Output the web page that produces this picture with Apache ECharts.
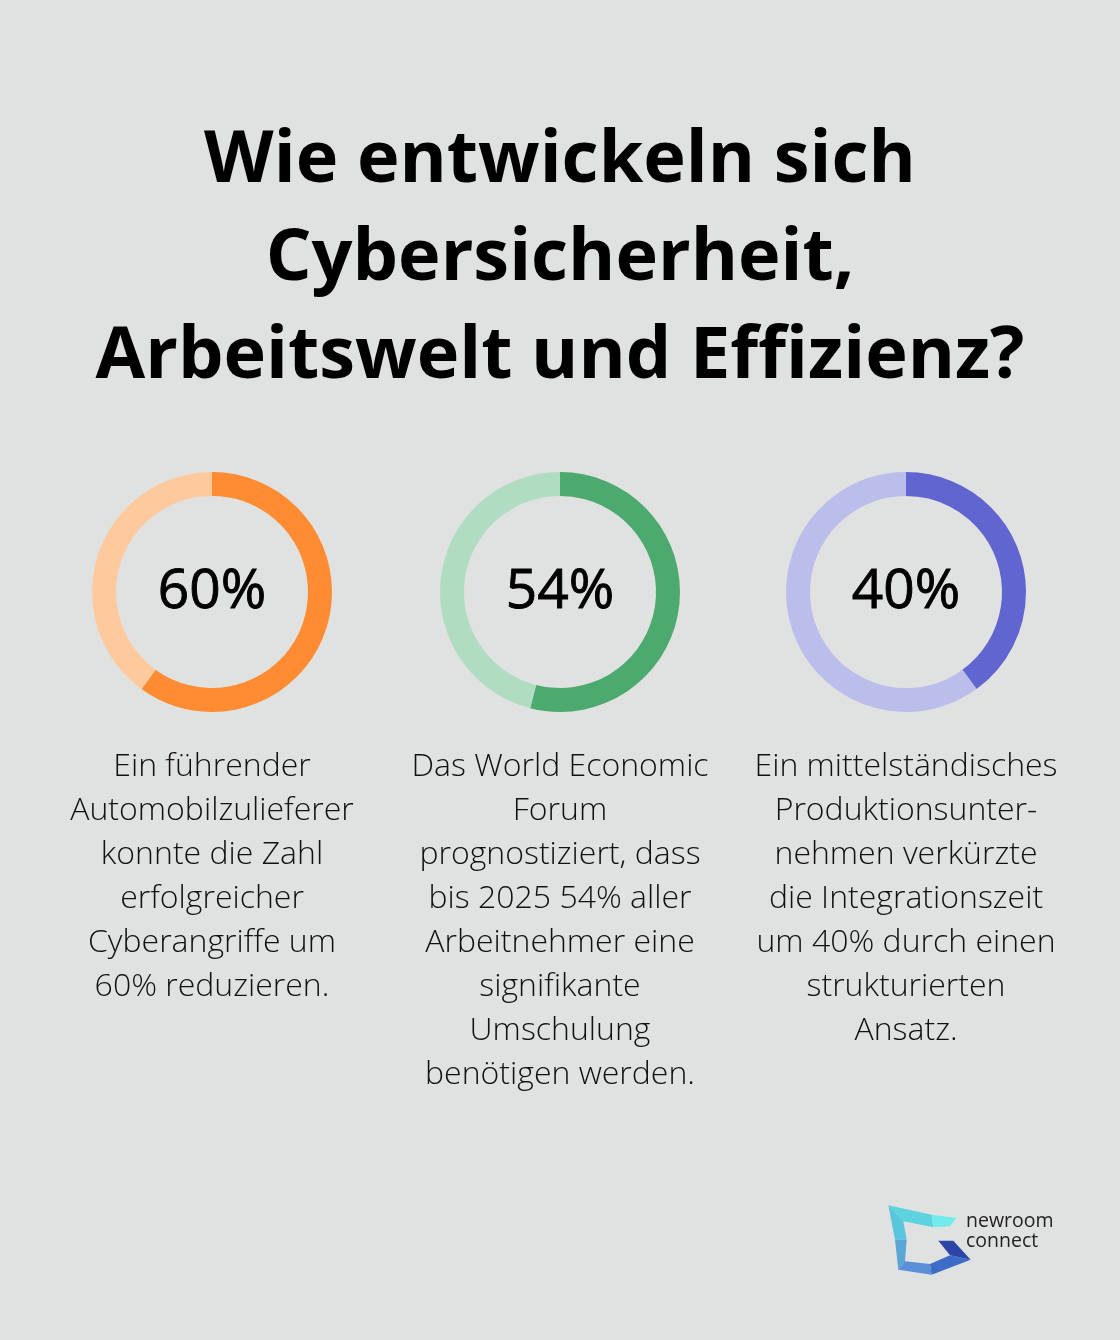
<!DOCTYPE html>
<html><head><meta charset="utf-8">
<script src="https://cdn.jsdelivr.net/npm/echarts@6/dist/echarts.min.js"></script>
<style>html,body{margin:0;padding:0;background:#e0e2e1;}#c{width:1120px;height:1340px;}</style>
</head><body><div id="c"></div>
<script>
const titleLines = ['Wie entwickeln sich', 'Cybersicherheit,', 'Arbeitswelt und Effizienz?'];
const percentValues = [60, 54, 40];
const percentLabels = ['60%', '54%', '40%'];
const descriptions = [
  ['Ein führender', 'Automobilzulieferer', 'konnte die Zahl', 'erfolgreicher', 'Cyberangriffe um', '60% reduzieren.'],
  ['Das World Economic', 'Forum', 'prognostiziert, dass', 'bis 2025 54% aller', 'Arbeitnehmer eine', 'signifikante', 'Umschulung', 'benötigen werden.'],
  ['Ein mittelständisches', 'Produktionsunter-', 'nehmen verkürzte', 'die Integrationszeit', 'um 40% durch einen', 'strukturierten', 'Ansatz.']
];
const darkColors = ['#ff8c33', '#4daa6e', '#6165d0'];
const lightColors = ['#ffc99e', '#b0ddc1', '#bbbdeb'];
const centersX = [212, 560, 906];
const centerY = 592;

const chart = echarts.init(document.getElementById('c'), null, {renderer: 'canvas'});
const FONT = '"Open Sans", "Noto Sans", sans-serif';

const series = percentValues.map((v, i) => ({
  type: 'pie',
  center: [centersX[i], centerY],
  radius: [96, 120],
  startAngle: 90,
  clockwise: true,
  silent: true,
  animation: false,
  labelLine: {show: false},
  data: [
    {value: v, itemStyle: {color: darkColors[i]},
     label: {show: true, position: 'center', formatter: percentLabels[i], fontFamily: FONT, fontSize: 55, fontWeight: 400, color: '#000', textBorderColor: '#000', textBorderWidth: 0.9, padding: [4, 0, 0, 0]}},
    {value: 100 - v, itemStyle: {color: lightColors[i]}, label: {show: false}}
  ]
}));

const graphics = [];
graphics.push({
  type: 'text', left: 'center', top: 112,
  style: {text: titleLines.join('\n'), font: 'bold 72px ' + FONT, fill: '#000', textAlign: 'center', lineHeight: 98}
});
descriptions.forEach((lines, i) => {
  graphics.push({
    type: 'text', x: centersX[i], y: 745,
    style: {text: lines.join('\n'), fontFamily: FONT, fontSize: 32, fontWeight: 300, fill: '#111', textAlign: 'center', textVerticalAlign: 'top', lineHeight: 44}
  });
});
// logo (decorative)
const P = (zx, zy) => [880 + zx / 3, 1198 + zy / 3];
const logoParts = [
  {pts: [P(25,22), P(155,50), P(160,88), P(70,70)], c: '#5dd3df'},
  {pts: [P(155,50), P(230,60), P(210,85), P(160,88)], c: '#72ebea'},
  {pts: [P(25,22), P(70,70), P(80,125), P(45,125)], c: '#58c6dc'},
  {pts: [P(45,125), P(80,125), P(75,190), P(55,215)], c: '#5aa6d4'},
  {pts: [P(55,215), P(75,190), P(150,198), P(155,230)], c: '#5a8ed8'},
  {pts: [P(150,198), P(210,172), P(272,185), P(155,230)], c: '#3c6cc8'},
  {pts: [P(175,128), P(220,128), P(272,185), P(210,172)], c: '#2e45a8'}
];
logoParts.forEach(p => graphics.push({type: 'polygon', shape: {points: p.pts}, style: {fill: p.c}, silent: true}));
graphics.push({
  type: 'text', x: 966, y: 1212,
  style: {text: 'newroom\nconnect', fontFamily: FONT, fontSize: 19.5, fontWeight: 400, fill: '#222', lineHeight: 19.5, textVerticalAlign: 'top'}
});

chart.setOption({
  backgroundColor: '#e0e2e1',
  animation: false,
  series: series,
  graphic: graphics
});
</script></body></html>
